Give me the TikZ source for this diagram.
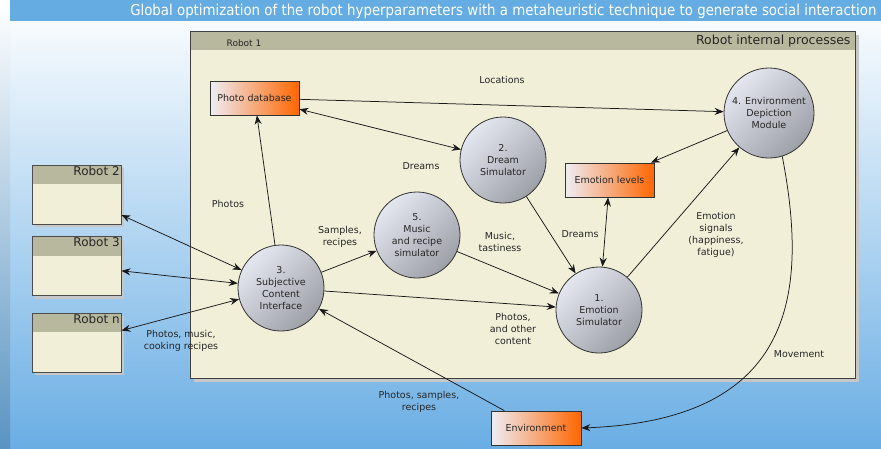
\documentclass[tikz,border=0pt]{standalone}
\usepackage{fontspec}
\setmainfont{DejaVu Sans}
\newfontfamily\titlefont[FakeStretch=0.89]{DejaVu Sans}
\usetikzlibrary{arrows.meta,shadows}
\definecolor{skyblue}{RGB}{106,174,228}
\definecolor{titleblue}{RGB}{100,172,226}
\definecolor{headgray}{RGB}{184,184,158}
\definecolor{paper}{RGB}{242,239,217}
\definecolor{proclight}{RGB}{228,231,240}
\definecolor{procdark}{RGB}{158,160,168}
\definecolor{storelight}{RGB}{238,238,246}
\definecolor{storeorange}{RGB}{255,102,0}
\begin{document}
\begin{tikzpicture}[x=1pt,y=-1pt,>={Stealth[length=9pt,width=7pt]},
    every node/.style={font=\fontsize{9.5}{12}\selectfont,align=center,text=black!85},
    process/.style={circle,draw=black!80,line width=0.8pt,minimum size=86pt,inner sep=0pt,
        top color=proclight,bottom color=procdark,shading angle=45},
    store/.style={rectangle,draw=black!80,line width=0.8pt,minimum width=89pt,minimum height=34pt,
        left color=storelight,right color=storeorange},
    robotbox/.style={rectangle,draw=black!70,line width=0.8pt,fill=paper,minimum width=89pt,minimum height=59pt,
        drop shadow={shadow xshift=3pt,shadow yshift=-3pt,fill=black!22,opacity=1},
        path picture={\fill[headgray] (path picture bounding box.north west)
            rectangle ([yshift=-19pt]path picture bounding box.north east);}},
    robotname/.style={anchor=north east,inner sep=1.5pt,font=\fontsize{12}{14}\selectfont},
    flow/.style={->,black!90,line width=0.75pt},
    dflow/.style={<->,black!90,line width=0.75pt}]
    \useasboundingbox (0,0) rectangle (881,448);
    % background and title
    \shade[top color=white,bottom color=skyblue] (0,0) rectangle (881,448);
    \shade[top color=white,bottom color=skyblue!85!black] (0,0) rectangle (10,448);
    \fill[titleblue] (10,0) rectangle (881,21);
    \node[text=white,font=\titlefont\fontsize{15}{17}\selectfont,anchor=east] (title) at (880,11)
        {Global optimization of the robot hyperparameters with a metaheuristic technique to generate social interaction};
    % robot 1 frame
    \fill[black!22] (194,35) rectangle (859,382);
    \fill[paper] (190,31) rectangle (855,378);
    \fill[headgray] (190,31) rectangle (855,50);
    \draw[black!75,line width=0.8pt] (190,31) rectangle (855,378);
    \node[font=\fontsize{9}{11}\selectfont] (robotone) at (244,43) {Robot 1};
    \node[anchor=east,font=\fontsize{12.5}{14}\selectfont] (internal) at (854,41) {Robot internal processes};
    % other robots
    \node[robotbox] (robottwo) at (76.5,194.5) {};
    \node[robotname] at (robottwo.north east) {Robot 2};
    \node[robotbox] (robotthree) at (76.5,266) {};
    \node[robotname] at (robotthree.north east) {Robot 3};
    \node[robotbox] (robotn) at (76.5,342.5) {};
    \node[robotname] at (robotn.north east) {Robot n};
    % processes
    \node[process] (emosim) at (599,310) {1.\\Emotion\\Simulator};
    \node[process] (dream) at (503,160) {2.\\Dream\\Simulator};
    \node[process] (subj) at (281,288) {3.\\Subjective\\Content\\Interface};
    \node[process,minimum size=90pt] (envdep) at (769,113) {4. Environment\\Depiction\\Module};
    \node[process] (music) at (417,235) {5.\\Music\\and recipe\\simulator};
    % stores
    \node[store] (photodb) at (254.5,98) {Photo database};
    \node[store] (emolev) at (609.5,180) {Emotion levels};
    \node[store,minimum width=90pt] (environ) at (536,428) {Environment};
    % flows
    \draw[flow] (photodb) -- (envdep);
    \draw[dflow] (photodb) -- (dream);
    \draw[flow] (envdep) -- (emolev);
    \draw[flow] (emosim) -- (envdep);
    \draw[dflow] (emolev) -- (emosim);
    \draw[flow] (dream) -- (emosim);
    \draw[flow] (music) -- (emosim);
    \draw[flow] (subj) -- (emosim);
    \draw[flow] (subj) -- (music);
    \draw[flow] (subj) -- (photodb);
    \draw[dflow] (robottwo) -- (subj);
    \draw[dflow] (robotthree) -- (subj);
    \draw[dflow] (robotn) -- (subj);
    \draw[flow] (environ) -- (subj);
    \draw[flow] (envdep.-73) .. controls (810,300) and (790,420) .. (environ.east);
    % flow labels
    \node (locations) at (502,80) {Locations};
    \node (dreamsa) at (421,166) {Dreams};
    \node (photos) at (228,204) {Photos};
    \node (samples) at (340,237) {Samples,\\recipes};
    \node (tastiness) at (500,242) {Music,\\tastiness};
    \node (dreamsb) at (580,234) {Dreams};
    \node (signals) at (716,235) {Emotion\\signals\\(happiness,\\fatigue)};
    \node (content) at (513,329) {Photos,\\and other\\content};
    \node (movement) at (799,354) {Movement};
    \node (shared) at (181,341) {Photos, music,\\cooking recipes};
    \node (envlabel) at (419,402) {Photos, samples,\\recipes};
\end{tikzpicture}
\end{document}
